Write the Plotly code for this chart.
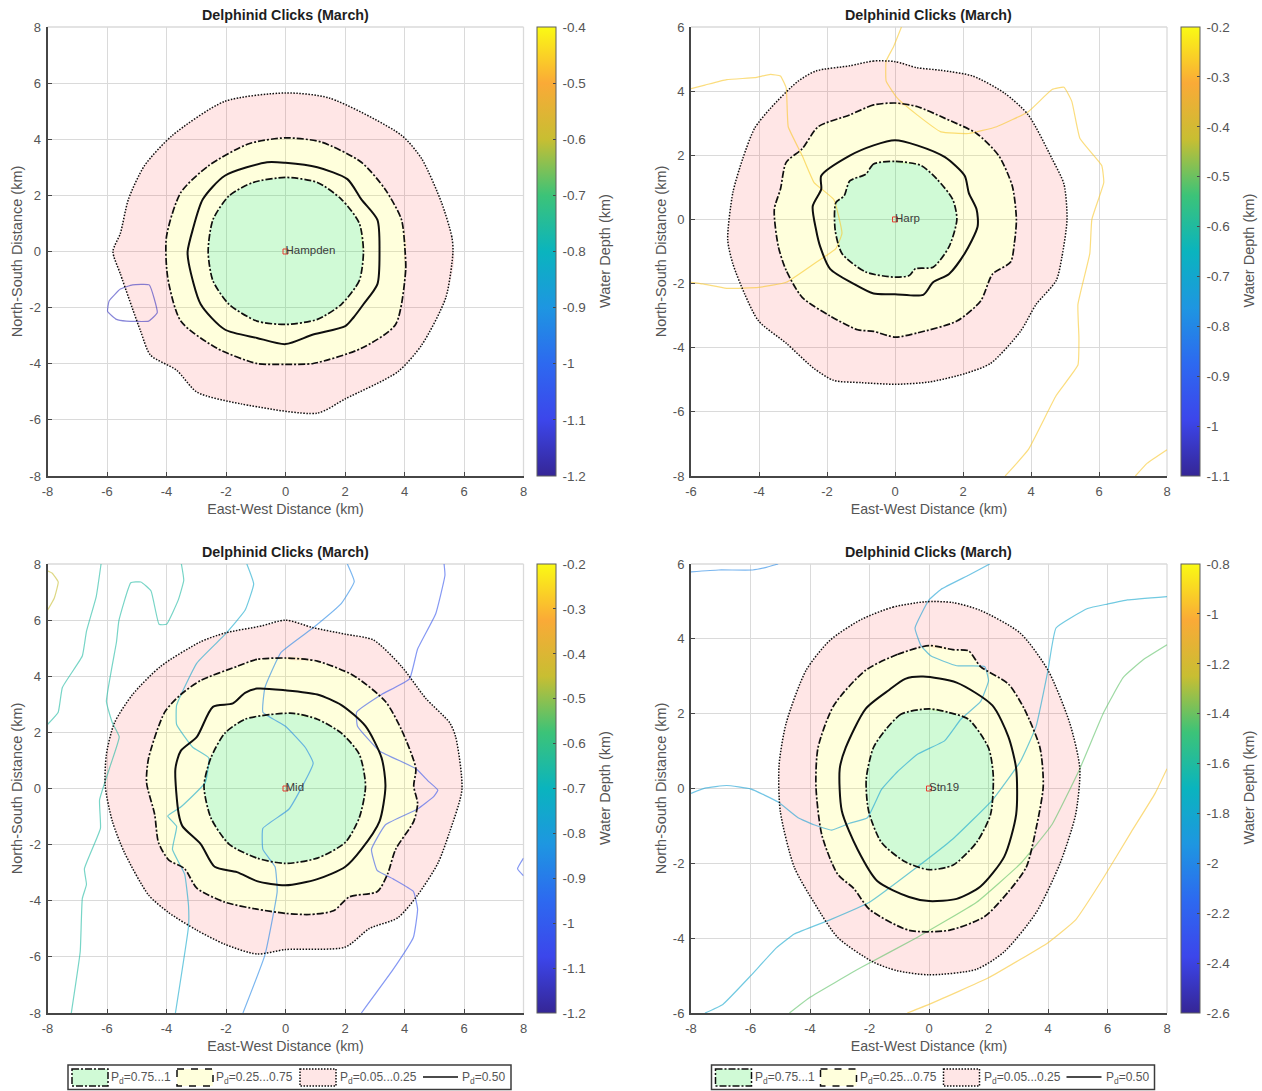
import plotly.graph_objects as go
from plotly.colors import sample_colorscale

W, H = 1262, 1091
FONT = "Liberation Sans"
TICK_GRAY = "rgb(85,85,85)"
AXIS_GRAY = "rgb(70,70,70)"
GRID = "rgb(218,218,218)"

PARULA = [[0, "rgb(53,38,150)"], [0.125, "rgb(60,70,235)"], [0.25, "rgb(45,105,240)"],
          [0.375, "rgb(30,150,225)"], [0.5, "rgb(10,180,190)"], [0.625, "rgb(60,195,120)"],
          [0.75, "rgb(200,190,50)"], [0.875, "rgb(250,170,55)"], [1, "rgb(250,250,20)"]]

TITLE = "Delphinid Clicks (March)"
XLABEL = "East-West Distance (km)"
YLABEL = "North-South Distance (km)"
CBLABEL = "Water Depth (km)"
LEGEND_LABELS = ["P<sub>d</sub>=0.75...1", "P<sub>d</sub>=0.25...0.75", "P<sub>d</sub>=0.05...0.25", "P<sub>d</sub>=0.50"]

# ---------- Hampden ----------
ham_out_x = [5.63,5.59,5.25,4.58,3.9,1.47,0,-2.04,-3.8,-4.74,-5.28,-5.55,-5.8,-5.55,-4.87,-4.54,-3.66,-2.98,-1.5,1.07,2.01,3.77,4.58,5.39]
ham_out_y = [0,.53,1.73,3.3,4.14,5.47,5.65,5.35,4.14,3.06,1.86,.65,0,-.8,-2.84,-3.69,-4.23,-5.01,-5.43,-5.76,-5.25,-4.29,-3.33,-1.64]
ham_mid_x = [4.02,4.04,3.7,2.55,.93,0,-.96,-2.3,-3.52,-3.96,-4,-3.52,-2.58,-1.23,0,1.2,2.55,3.36,3.9]
ham_mid_y = [0,-.67,-2.6,-3.45,-3.99,-4.02,-3.99,-3.45,-2.48,-.92,.53,2.1,3.06,3.84,4.05,3.9,3.18,2.2,1.13]
ham_p50_x = [3.16,3.09,2.62,2.28,2.01,.93,0,-.96,-2.04,-2.85,-3.25,-3.29,-3.12,-2.78,-2.04,-.62,0,1.07,2.08,2.55,3.09]
ham_p50_y = [0,-1.16,-1.88,-2.36,-2.66,-2.96,-3.3,-3.08,-2.78,-1.88,-.43,0,.77,1.86,2.7,3.18,3.16,3,2.58,1.86,1.13]
ham_in_x = [2.62,2.48,1.88,1.07,0,-.96,-1.9,-2.44,-2.6,-2.44,-1.9,-1.09,0,1.07,1.88,2.48]
ham_in_y = [0,-1.04,-1.88,-2.42,-2.6,-2.48,-1.88,-1.04,0,1.13,1.98,2.46,2.64,2.46,1.86,1.01]
ham_d1_x = [-4.58,-4.31,-4.6,-5.35,-5.68,-5.98,-5.93,-5.55,-5.14,-4.58]
ham_d1_y = [-1.19,-2.18,-2.48,-2.48,-2.42,-2.14,-1.76,-1.34,-1.19,-1.19]

# ---------- Harp ----------
har_out_x = [0,-.63,-1.33,-2.32,-2.85,-3.66,-4.13,-4.48,-4.77,-4.92,-4.77,-4.42,-4.01,-3.2,-2.38,-1.8,-.98,0,1,2.05,2.81,3.69,4.15,4.74,4.91,5.06,4.97,4.62,3.92,3.22,2.29,1.35,.65]
har_out_y = [4.92,4.94,4.79,4.63,4.31,3.47,2.84,1.89,.83,-.64,-1.38,-2.33,-3.17,-3.86,-4.65,-5.02,-5.09,-5.14,-5.07,-4.81,-4.49,-3.49,-2.65,-1.91,-1.17,0,1.1,1.89,3.26,3.94,4.47,4.65,4.73]
har_mid_x = [0,-.63,-1.33,-2.26,-2.73,-3.2,-3.37,-3.55,-3.43,-3.2,-2.73,-1.91,-1.1,-.63,0,.65,1.82,2.52,2.87,3.4,3.51,3.57,3.45,3.05,2.4,1.47,.65]
har_mid_y = [3.63,3.57,3.26,2.89,2.2,1.78,.94,.31,-.85,-1.59,-2.43,-3.01,-3.44,-3.49,-3.67,-3.54,-3.17,-2.54,-1.7,-1.33,-.75,0,1.04,1.99,2.68,3.15,3.52]
har_p50_x = [0,-.63,-1.33,-2.17,-2.17,-2.42,-2.32,-2.2,-1.91,-1.21,-.63,0,.83,1.12,1.59,2.05,2.43,2.4,2.17,2.05,1.47,.65]
har_p50_y = [2.47,2.31,1.99,1.36,.94,.41,-.33,-.85,-1.54,-2.01,-2.31,-2.33,-2.35,-1.96,-1.7,-1.06,-.22,.31,.83,1.36,1.94,2.31]
har_in_x = [0,-.63,-.86,-1.33,-1.5,-1.74,-1.76,-1.56,-.86,0,.42,.6,1.12,1.59,1.82,1.7,1.24,.77]
har_in_y = [1.81,1.73,1.41,1.2,.73,.52,-.33,-1.06,-1.64,-1.8,-1.75,-1.54,-1.49,-.85,0,.62,1.25,1.68]
har_d1_x = [-6,-5.59,-4.95,-4.13,-3.66,-3.37,-3.2,-3.14,-2.73,-2.38,-1.8,-1.56,-1.74,-2.38,-3.2,-4.01,-4.95,-5.65,-6]
har_d1_y = [4.08,4.19,4.36,4.42,4.52,4.47,4.1,2.89,1.99,1.15,.62,-.43,-.91,-1.38,-1.96,-2.12,-2.15,-2.01,-1.96]
har_d2_x = [.19,-.05,-.26,-.26,.07,.65,1.35,2.17,2.99,3.92,4.62,4.97,5.2,5.44,6.08,6.14,5.79,5.73,5.38,5.41,5.38,4.74,3.92,3.24]
har_d2_y = [6,5.37,4.94,4.31,3.78,3.26,2.73,2.68,2.89,3.36,4.05,4.12,3.68,2.52,1.68,1.15,0,-1.06,-2.65,-3.7,-4.54,-5.49,-7.18,-8]
har_d3_x = [7.07,7.42,8]
har_d3_y = [-8,-7.6,-7.18]

# ---------- Mid ----------
mid_out_x = [0,-.82,-2.04,-2.85,-4.2,-5.14,-5.75,-6.02,-6.06,-5.82,-5.41,-4.6,-3.93,-2.98,-2.04,-.96,0,2.01,2.82,3.77,4.44,5.12,5.52,5.93,5.72,5.52,4.71,3.9,2.96,2.01,.93]
mid_out_y = [6,5.79,5.54,5.23,4.35,3.35,2.34,1.22,.09,-1.17,-2.29,-3.8,-4.42,-5.05,-5.55,-5.9,-5.74,-5.65,-4.99,-4.61,-3.8,-2.67,-1.54,-.04,1.84,2.34,3.22,4.35,5.29,5.5,5.73]
mid_mid_x = [0,-.96,-1.63,-2.85,-3.52,-4.06,-4.6,-4.67,-4.4,-4.27,-3.93,-3.39,-2.98,-2.04,-.96,0,.8,1.61,2.15,3.09,3.43,3.7,4.31,4.44,4.31,4.38,3.9,3.36,2.28,1.07]
mid_mid_y = [4.65,4.6,4.35,3.85,3.35,2.72,1.09,.21,-.91,-1.92,-2.54,-2.86,-3.55,-4.05,-4.3,-4.45,-4.49,-4.36,-3.86,-3.67,-3.05,-2.17,-1.17,-.54,.09,.71,2.09,3.1,4.03,4.54]
mid_p50_x = [0,-.96,-1.36,-1.77,-2.44,-2.98,-3.52,-3.7,-3.59,-3.46,-2.85,-2.38,-1.63,-.96,0,1.07,2.01,2.55,3.16,3.36,3.23,2.69,1.88,1.07]
mid_p50_y = [3.5,3.56,3.41,3.03,2.91,1.84,1.34,.71,-.91,-1.35,-1.98,-2.79,-2.98,-3.3,-3.45,-3.23,-2.79,-2.17,-1.17,.09,1.09,2.22,2.97,3.35]
mid_in_x = [.26,-.55,-1.36,-2.04,-2.51,-2.74,-2.51,-1.9,-.96,0,1.07,2.01,2.48,2.69,2.48,1.88,1.07]
mid_in_y = [2.68,2.63,2.47,1.97,1.09,.09,-1.04,-1.98,-2.48,-2.67,-2.48,-1.92,-1.04,.09,1.22,1.97,2.47]
mid_d1_x = [-8,-7.84,-7.64,-7.77,-8]
mid_d1_y = [7.76,7.67,7.36,6.79,6.35]
mid_d2_x = [-6.2,-6.36,-6.69,-6.83,-7.5,-7.64,-8]
mid_d2_y = [8,6.85,5.6,4.72,3.6,2.72,2.28]
mid_d3_x = [-7.2,-6.9,-6.83,-6.69,-6.76,-6.22,-6.25,-5.88,-5.59,-5.82,-6.02,-5.68,-5.6,-5.2,-4.86,-4.52,-4.25,-4,-3.6,-3.42,-3.5]
mid_d3_y = [-8,-5.81,-3.92,-3.42,-2.86,-1.42,-.41,.84,1.84,2.34,3.1,5.23,5.98,7.33,7.36,7.04,5.85,5.85,6.73,7.42,8]
mid_d4_x = [-3.7,-3.26,-3.26,-3.39,-3.8,-3.66,-3.96,-3.52,-2.7,-2.58,-3.12,-3.66,-3.66,-2.98,-2.04,-1.36,-1.07,-1.3]
mid_d4_y = [-8,-4.92,-4.17,-3.05,-2.17,-1.35,-.98,-.66,.21,1.09,1.47,2.28,2.97,4.47,5.48,6.35,7.29,8]
mid_d5_x = [-1.43,-.69,-.28,-.35,-.76,-.76,.12,.93,.66,0,-.76,-.69,-.15,.93,1.88,2.31,2.08]
mid_d5_y = [-8,-5.93,-3.67,-2.79,-2.17,-1.42,-.73,.9,1.47,2.22,2.72,3.6,4.85,5.73,6.6,7.37,8]
mid_d6_x = [2.55,3.63,4.3,4.44,4.3,3.63,3.08,2.89,3.36,4.44,4.98,5.12,4.78,4.38,3.16,2.42,2.39,3.23,4.17,4.44,5.05,5.36,5.33]
mid_d6_y = [-8,-6.43,-5.3,-4.3,-3.67,-3.23,-2.92,-2.17,-1.29,-.73,-.29,-.06,.28,.71,1.34,2.22,2.72,3.35,3.91,4.97,6.23,7.6,8]
mid_d7_x = [8,7.8,8]
mid_d7_y = [-2.48,-2.86,-3.11]

# ---------- Stn19 ----------
stn_out_x = [-.13,-1.2,-2.27,-3.33,-4.13,-4.8,-5.04,-5,-4.53,-3.87,-3.07,-1.87,-1.07,0,1.6,2.53,3.6,4.4,4.93,5.07,4.73,4,3.07,1.73,.8]
stn_out_y = [4.99,4.85,4.52,3.96,3.16,1.75,.62,-.6,-2.1,-3.04,-3.98,-4.64,-4.87,-4.98,-4.83,-4.36,-3.32,-2.01,-.69,.53,1.75,3.16,4.15,4.76,4.97]
stn_mid_x = [0,-1.07,-2.13,-3.2,-3.73,-3.8,-3.6,-3.07,-2.53,-2,-.67,.67,1.87,2.67,3.27,3.6,3.84,3.73,3.2,2.67,1.73,1.33,.8]
stn_mid_y = [3.82,3.58,3.16,2.22,1.09,.06,-1.25,-2.29,-2.67,-3.23,-3.79,-3.79,-3.42,-2.76,-2.1,-1.07,.06,1.09,2.13,2.79,3.26,3.68,3.71]
stn_p50_x = [-.2,-.8,-1.33,-2.13,-2.8,-3,-2.93,-2.4,-1.73,-.67,0,.93,1.73,2.53,2.93,2.93,2.67,2.13,.93]
stn_p50_y = [2.99,2.93,2.64,2.13,1.09,.53,-.6,-1.63,-2.48,-2.9,-3.01,-2.95,-2.62,-1.82,-.69,.53,1.38,2.22,2.83]
stn_in_x = [0,-.93,-1.47,-1.87,-2.11,-2.03,-1.6,-.8,0,.8,1.6,2.07,2.16,2,1.33,.67]
stn_in_y = [2.13,1.99,1.56,1.09,.25,-.6,-1.44,-1.96,-2.17,-2.05,-1.44,-.69,.34,1.09,1.85,2.03]
stn_d1_x = [-8,-7.07,-5.93,-5.47,-5.07]
stn_d1_y = [5.79,5.84,5.84,5.91,6]
stn_d2_x = [-8,-7.53,-6.8,-6,-5.07,-4.4,-3.87,-3.27,-2.67,-2.07,-1.6,-1.07,-.4,.53,1.07,1.73,2,1.87,.93,.07,-.27,-.47,0,.4,1.33,2.04]
stn_d2_y = [-.13,.01,.08,-.01,-.36,-.78,-.97,-1.11,-.93,-.78,-.03,.44,.91,1.28,1.85,2.32,2.88,3.26,3.28,3.54,3.82,4.29,5.04,5.32,5.7,6]
stn_d3_x = [-7.53,-6.93,-6,-5.13,-4.53,-3.33,-2,-.4,.8,2.13,3.07,3.6,4,4.27,5.33,6,6.67,8]
stn_d3_y = [-6,-5.77,-5.01,-4.26,-3.89,-3.51,-3.04,-2.1,-1.35,-.31,.72,1.66,3.16,4.29,4.81,4.93,5.04,5.13]
stn_d4_x = [-4.69,-4,-2.27,-.4,1.6,3.07,4.13,5.07,5.87,6.53,7.2,8]
stn_d4_y = [-6,-5.58,-4.78,-3.98,-3.04,-2.01,-.97,.53,2.03,2.97,3.44,3.84]
stn_d5_x = [-.73,0,2,4,4.93,5.87,6.8,7.6,8]
stn_d5_y = [-6,-5.77,-5.06,-4.12,-3.51,-2.38,-1.16,-.13,.53]

TICKS_8 = [-8,-6,-4,-2,0,2,4,6,8]
TICKS_68 = [-6,-4,-2,0,2,4,6,8]
TICKS_6 = [-6,-4,-2,0,2,4,6]

CB_A = [-1.2,-1.1,-1,-.9,-.8,-.7,-.6,-.5,-.4]
CB_B = [-1.1,-1,-.9,-.8,-.7,-.6,-.5,-.4,-.3,-.2]
CB_C = [-1.2,-1.1,-1,-.9,-.8,-.7,-.6,-.5,-.4,-.3,-.2]
CB_D = [-2.6,-2.4,-2.2,-2,-1.8,-1.6,-1.4,-1.2,-1,-.8]

panels = [
    dict(name="Hampden", left=47.5, top=27, xt=TICKS_8, yt=TICKS_8, cb=CB_A,
         out=(ham_out_x,ham_out_y), mid=(ham_mid_x,ham_mid_y), p50=(ham_p50_x,ham_p50_y), inn=(ham_in_x,ham_in_y),
         depth=[(ham_d1_x,ham_d1_y,-1.15)], legend=False),
    dict(name="Harp", left=691, top=27, xt=TICKS_68, yt=[-8]+TICKS_6, cb=CB_B,
         out=(har_out_x,har_out_y), mid=(har_mid_x,har_mid_y), p50=(har_p50_x,har_p50_y), inn=(har_in_x,har_in_y),
         depth=[(har_d1_x,har_d1_y,-.27),(har_d2_x,har_d2_y,-.27),(har_d3_x,har_d3_y,-.27)], legend=False),
    dict(name="Mid", left=47.5, top=564, xt=TICKS_8, yt=TICKS_8, cb=CB_C,
         out=(mid_out_x,mid_out_y), mid=(mid_mid_x,mid_mid_y), p50=(mid_p50_x,mid_p50_y), inn=(mid_in_x,mid_in_y),
         depth=[(mid_d1_x,mid_d1_y,-.45),(mid_d2_x,mid_d2_y,-.65),(mid_d3_x,mid_d3_y,-.65),(mid_d4_x,mid_d4_y,-.75),
                (mid_d5_x,mid_d5_y,-.87),(mid_d6_x,mid_d6_y,-1.02),(mid_d7_x,mid_d7_y,-1.02)], legend=True),
    dict(name="Stn19", left=691, top=564, xt=TICKS_8, yt=TICKS_6, cb=CB_D,
         out=(stn_out_x,stn_out_y), mid=(stn_mid_x,stn_mid_y), p50=(stn_p50_x,stn_p50_y), inn=(stn_in_x,stn_in_y),
         depth=[(stn_d1_x,stn_d1_y,-2.0),(stn_d2_x,stn_d2_y,-1.85),(stn_d3_x,stn_d3_y,-1.8),(stn_d4_x,stn_d4_y,-1.42),(stn_d5_x,stn_d5_y,-.95)], legend=True),
]

PW, PH = 476, 449
FILL_PINK = "rgba(255,60,60,0.13)"
FILL_YELLOW = "rgba(255,255,60,0.18)"
FILL_GREEN = "rgba(40,230,70,0.22)"
DASHDOT = "7px,2px,2px,2px"
DOTTED = "1.5px,1.5px"
SPLINE = dict(shape="spline", smoothing=0.7)
SPLINE_SOFT = dict(shape="spline", smoothing=0.35)

def closed(xy):
    return list(xy[0]) + [xy[0][0]], list(xy[1]) + [xy[1][0]]

def area(x, y):
    return sum(x[k] * y[k + 1] - x[k + 1] * y[k] for k in range(len(x) - 1))

def ring(outer, inner):
    ox, oy = closed(outer)
    ix, iy = closed(inner)
    if area(ox, oy) * area(ix, iy) > 0:
        ix, iy = ix[::-1], iy[::-1]
    return ox + ix, oy + iy

fig = go.Figure()
annotations, shapes = [], []

def px(x): return x / W
def py(y): return 1 - y / H

def note(text, x, y, size, color, xanchor="center", angle=0):
    annotations.append(dict(text=text, xref="paper", yref="paper", x=px(x), y=py(y), xanchor=xanchor, yanchor="middle",
                            textangle=angle, showarrow=False, font=dict(family=FONT, size=size, color=color)))

for i, p in enumerate(panels, start=1):
    s = "" if i == 1 else str(i)
    xa, ya = "x" + s, "y" + s
    xkw = dict(xaxis=xa, yaxis=ya, hoverinfo="skip", showlegend=False)
    # fills
    rx, ry = ring(p["out"], p["mid"])
    fig.add_trace(go.Scatter(x=rx, y=ry, mode="lines", fill="toself", fillcolor=FILL_PINK, line=dict(width=0, **SPLINE), **xkw))
    rx, ry = ring(p["mid"], p["inn"])
    fig.add_trace(go.Scatter(x=rx, y=ry, mode="lines", fill="toself", fillcolor=FILL_YELLOW, line=dict(width=0, **SPLINE), **xkw))
    rx, ry = closed(p["inn"])
    fig.add_trace(go.Scatter(x=rx, y=ry, mode="lines", fill="toself", fillcolor=FILL_GREEN, line=dict(width=0, **SPLINE), **xkw))
    # depth contours
    cmin, cmax = p["cb"][0], p["cb"][-1]
    for dx, dy, level in p["depth"]:
        col = sample_colorscale(PARULA, [(level - cmin) / (cmax - cmin)])[0]
        fig.add_trace(go.Scatter(x=dx, y=dy, mode="lines", opacity=0.6, line=dict(color=col, width=1.2, **SPLINE_SOFT), **xkw))
    # Pd contours
    for key, dash, width in (("out", DOTTED, 1.5), ("mid", DASHDOT, 1.7), ("inn", DASHDOT, 1.7), ("p50", "solid", 2)):
        cx, cy = closed(p[key])
        fig.add_trace(go.Scatter(x=cx, y=cy, mode="lines", line=dict(color="rgb(15,15,15)", width=width, dash=dash, **SPLINE), **xkw))
    # station
    fig.add_trace(go.Scatter(x=[0], y=[0], mode="markers",
                             marker=dict(symbol="square-open", size=5, color="rgb(230,60,50)", line=dict(width=1)), **xkw))
    fig.add_trace(go.Scatter(x=[0], y=[0], mode="text", text=[p["name"]], textposition="middle right",
                             textfont=dict(family=FONT, size=11.5, color="rgb(60,60,60)"), cliponaxis=False, **xkw))
    # colourbar carrier (placed outside the axis range)
    fig.add_trace(go.Scatter(x=[p["xt"][-1] + 100] * 2, y=[0, 0], mode="markers",
                             marker=dict(color=[cmin, cmax], cmin=cmin, cmax=cmax, colorscale=PARULA, showscale=True, size=1,
                                         colorbar=dict(x=px(p["left"] + 489.5), xanchor="left", xpad=0, ypad=0,
                                                       y=py(p["top"] + PH / 2), yanchor="middle", lenmode="pixels", len=PH,
                                                       thicknessmode="pixels", thickness=19,
                                                       outlinecolor="rgb(95,95,95)", outlinewidth=1,
                                                       tickvals=p["cb"], ticktext=["\u2009" + f"{v:g}" for v in p["cb"]],
                                                       ticks="inside", ticklen=3, tickcolor="rgb(70,70,70)", tickwidth=1,
                                                       tickfont=dict(family=FONT, size=13.5, color=TICK_GRAY))),
                             **xkw))
    axis_common = dict(showgrid=True, gridcolor=GRID, gridwidth=1.3, zeroline=False, showline=True,
                       linecolor=AXIS_GRAY, linewidth=2, ticks="inside", ticklen=4, tickcolor=AXIS_GRAY, tickwidth=1,
                       ticklabelstandoff=2, tickfont=dict(family=FONT, size=13, color=TICK_GRAY))
    fig.update_layout({
        "xaxis" + s: dict(domain=[px(p["left"]), px(p["left"] + PW)], range=[p["xt"][0], p["xt"][-1]], anchor=ya,
                          tickvals=p["xt"], ticktext=[str(v) for v in p["xt"]],
                          title=dict(text=XLABEL, font=dict(family=FONT, size=14.2, color=TICK_GRAY), standoff=6), **axis_common),
        "yaxis" + s: dict(domain=[py(p["top"] + PH), py(p["top"])], range=[p["yt"][0], p["yt"][-1]], anchor=xa,
                          tickvals=p["yt"], ticktext=[str(v) for v in p["yt"]],
                          title=dict(text=YLABEL, font=dict(family=FONT, size=14.5, color=TICK_GRAY), standoff=3), **axis_common),
    })
    # light top and right edges
    shapes.append(dict(type="line", xref="paper", yref="paper", layer="below", x0=px(p["left"]), x1=px(p["left"] + PW),
                       y0=py(p["top"]), y1=py(p["top"]), line=dict(color=GRID, width=1.3)))
    shapes.append(dict(type="line", xref="paper", yref="paper", layer="below", x0=px(p["left"] + PW), x1=px(p["left"] + PW),
                       y0=py(p["top"]), y1=py(p["top"] + PH), line=dict(color=GRID, width=1.3)))
    note(f"<b>{TITLE}</b>", p["left"] + PW / 2, p["top"] - 12, 14.3, "rgb(30,30,30)")
    note(CBLABEL, p["left"] + 557.5, p["top"] + 224, 14.5, TICK_GRAY, angle=-90)
    if p["legend"]:
        L = p["left"] + 20.5
        top = p["top"] + 501
        shapes.append(dict(type="rect", xref="paper", yref="paper", x0=px(L), x1=px(L + 443), y0=py(top), y1=py(top + 24.5),
                           fillcolor="white", line=dict(color="rgb(60,60,60)", width=1.5)))
        swatches = [(4, FILL_GREEN, DASHDOT), (109, FILL_YELLOW, "7px,7px"), (232, FILL_PINK, DOTTED)]
        text_x = [41, 146, 270, 392]
        for (sx, col, dash) in swatches:
            shapes.append(dict(type="rect", xref="paper", yref="paper", x0=px(L + sx), x1=px(L + sx + 36), y0=py(top + 4), y1=py(top + 21),
                               fillcolor=col, line=dict(color="rgb(15,15,15)", width=1.5, dash=dash)))
        shapes.append(dict(type="line", xref="paper", yref="paper", x0=px(L + 355), x1=px(L + 390), y0=py(top + 12), y1=py(top + 12),
                           line=dict(color="rgb(15,15,15)", width=1.7)))
        for tx, label in zip(text_x, LEGEND_LABELS):
            note(label, L + tx, top + 12.5, 12, TICK_GRAY, xanchor="left")

fig.update_layout(width=W, height=H, autosize=False, margin=dict(l=0, r=0, t=0, b=0, autoexpand=False), paper_bgcolor="white", plot_bgcolor="white",
                  showlegend=False, annotations=annotations, shapes=shapes, font=dict(family=FONT))
fig.write_html("out.html", config=dict(displayModeBar=False), post_script="document.body.style.margin='0';")
